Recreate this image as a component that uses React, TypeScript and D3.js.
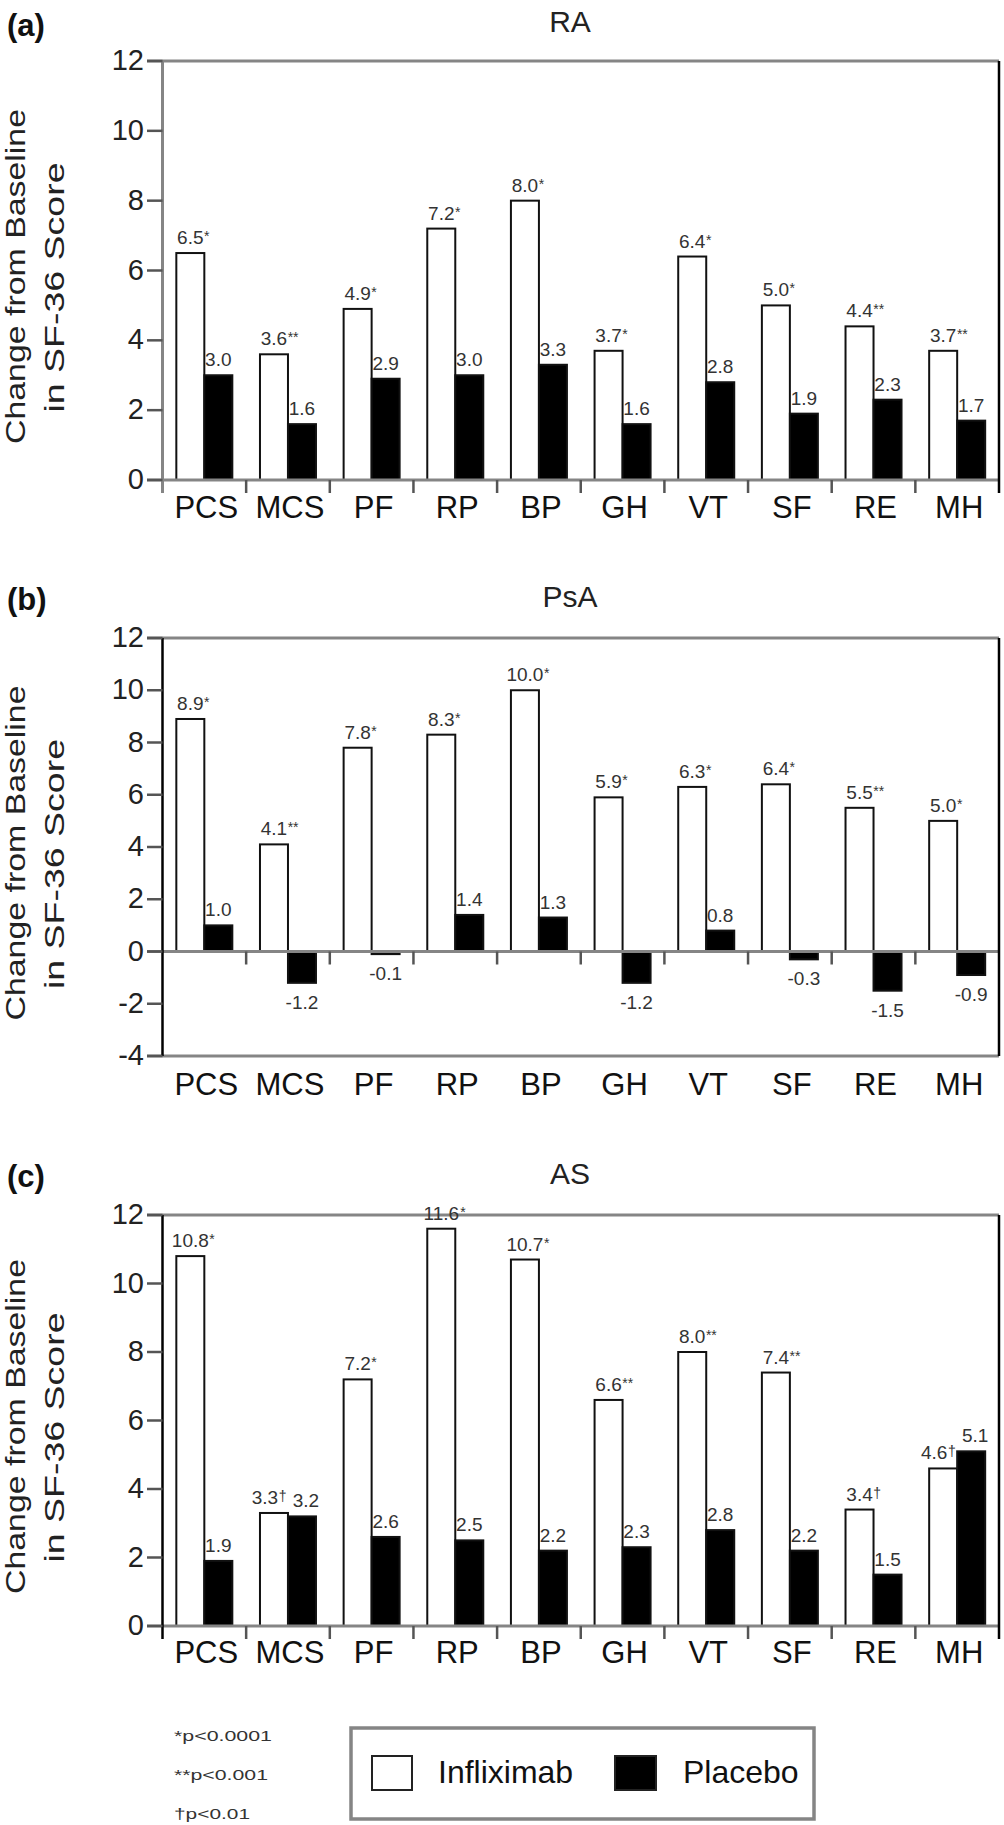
import React from "react";
import * as d3 from "d3";

const categories = ["PCS", "MCS", "PF", "RP", "BP", "GH", "VT", "SF", "RE", "MH"];
const seriesNames = ["Infliximab", "Placebo"];

const raInfliximab = [6.5, 3.6, 4.9, 7.2, 8.0, 3.7, 6.4, 5.0, 4.4, 3.7];
const raInfliximabSig = ["*", "**", "*", "*", "*", "*", "*", "*", "**", "**"];
const raPlacebo = [3.0, 1.6, 2.9, 3.0, 3.3, 1.6, 2.8, 1.9, 2.3, 1.7];

const psaInfliximab = [8.9, 4.1, 7.8, 8.3, 10.0, 5.9, 6.3, 6.4, 5.5, 5.0];
const psaInfliximabSig = ["*", "**", "*", "*", "*", "*", "*", "*", "**", "*"];
const psaPlacebo = [1.0, -1.2, -0.1, 1.4, 1.3, -1.2, 0.8, -0.3, -1.5, -0.9];

const asInfliximab = [10.8, 3.3, 7.2, 11.6, 10.7, 6.6, 8.0, 7.4, 3.4, 4.6];
const asInfliximabSig = ["*", "†", "*", "*", "*", "**", "**", "**", "†", "†"];
const asPlacebo = [1.9, 3.2, 2.6, 2.5, 2.2, 2.3, 2.8, 2.2, 1.5, 5.1];

const footnotes = ["*p<0.0001", "**p<0.001", "†p<0.01"];

const FONT = "'Liberation Sans', Arial, Helvetica, sans-serif";
const GRAY = "#858585";
const X0 = 162.5;
const X1 = 999;
const TICK_LEFT = 147;

type PanelCfg = {
  letter: string;
  title: string;
  inf: number[];
  sig: string[];
  pla: number[];
  domain: [number, number];
  yTop: number;
  yBottom: number;
  letterBaseline: number;
  titleBaseline: number;
  catBaseline: number;
  boxed: boolean;
  grayAxis: boolean;
};

const panels: PanelCfg[] = [
  { letter: "(a)", title: "RA", inf: raInfliximab, sig: raInfliximabSig, pla: raPlacebo, domain: [0, 12], yTop: 61, yBottom: 480, letterBaseline: 36, titleBaseline: 32, catBaseline: 518, boxed: false, grayAxis: true },
  { letter: "(b)", title: "PsA", inf: psaInfliximab, sig: psaInfliximabSig, pla: psaPlacebo, domain: [-4, 12], yTop: 638, yBottom: 1056, letterBaseline: 610, titleBaseline: 607, catBaseline: 1095, boxed: true, grayAxis: false },
  { letter: "(c)", title: "AS", inf: asInfliximab, sig: asInfliximabSig, pla: asPlacebo, domain: [0, 12], yTop: 1215, yBottom: 1626, letterBaseline: 1187, titleBaseline: 1184, catBaseline: 1663, boxed: false, grayAxis: false },
];

function numWidth(s: string, fs: number) {
  let w = 0;
  for (const ch of s) w += ch === "." ? 0.278 : ch === "-" ? 0.333 : 0.556;
  return w * fs;
}

const VFS = 19;

function Panel({ p }: { p: PanelCfg }) {
  const x = d3.scaleBand<string>().domain(categories).range([X0, X1]);
  const bw = x.bandwidth();
  const groupW = 56;
  const xs = d3.scaleBand<string>().domain(seriesNames).range([(bw - groupW) / 2, (bw + groupW) / 2]);
  const y = d3.scaleLinear().domain(p.domain).range([p.yBottom, p.yTop]);
  const ticks = y.ticks(8);
  const y0 = y(0);
  const axisEnd = p.boxed ? p.yBottom : y0 + 13;
  const midY = (p.yTop + (p.boxed ? p.yBottom : y0)) / 2;

  const bars: React.ReactNode[] = [];
  const labels: React.ReactNode[] = [];
  categories.forEach((c, i) => {
    const vals = [p.inf[i], p.pla[i]];
    // when both label heights are close, spread the two labels apart
    const crowded = Math.abs(vals[0] - vals[1]) < 0.8;
    seriesNames.forEach((s, j) => {
      const v = vals[j];
      const bx = (x(c) as number) + (xs(s) as number);
      const w = xs.bandwidth();
      const top = Math.min(y(v), y0);
      const h = Math.abs(y(v) - y0);
      bars.push(
        <rect key={`b${i}${j}`} x={bx} y={top} width={w} height={h}
          fill={j === 0 ? "#fff" : "#000"} stroke="#111" strokeWidth={2} />
      );
      const txt = v.toFixed(1);
      const cx = bx + w / 2 + (crowded ? (j === 0 ? -9 : 4) : 0);
      const ly = v >= 0 ? y(v) - 9 : y(v) + 26;
      labels.push(
        <text key={`l${i}${j}`} x={cx} y={ly} textAnchor="middle" fontSize={VFS} fill="#333" fontFamily={FONT}>{txt}</text>
      );
      if (j === 0) {
        labels.push(
          <text key={`s${i}`} x={cx + numWidth(txt, VFS) / 2 + 0.5} y={ly - 3} fontSize={14} fill="#333" fontFamily={FONT}>{p.sig[i]}</text>
        );
      }
    });
  });

  return (
    <g>
      <text x={7} y={p.letterBaseline} fontSize={31} fontWeight="bold" fontFamily={FONT} fill="#111">{p.letter}</text>
      <text x={570} y={p.titleBaseline} fontSize={30} textAnchor="middle" fontFamily={FONT} fill="#222">{p.title}</text>
      <text transform={`translate(25,${midY + 6}) rotate(-90)`} textAnchor="middle" fontSize={28} fontFamily={FONT} fill="#222" textLength={335} lengthAdjust="spacingAndGlyphs">Change from Baseline</text>
      <text transform={`translate(64,${midY + 17}) rotate(-90)`} textAnchor="middle" fontSize={28} fontFamily={FONT} fill="#222" textLength={250} lengthAdjust="spacingAndGlyphs">in SF-36 Score</text>
      {bars}
      <line x1={TICK_LEFT} x2={X1} y1={p.yTop} y2={p.yTop} stroke={GRAY} strokeWidth={3} />
      <line x1={TICK_LEFT} x2={X1} y1={y0} y2={y0} stroke={GRAY} strokeWidth={3} />
      {p.boxed && <line x1={TICK_LEFT} x2={X1} y1={p.yBottom} y2={p.yBottom} stroke={GRAY} strokeWidth={3} />}
      <line x1={X0} x2={X0} y1={p.yTop} y2={axisEnd} stroke={p.grayAxis ? GRAY : "#000"} strokeWidth={p.grayAxis ? 3 : 2.5} />
      <line x1={X1} x2={X1} y1={p.yTop} y2={axisEnd} stroke="#000" strokeWidth={2.5} />
      {ticks.map((t) => (
        <g key={`t${t}`}>
          <line x1={TICK_LEFT} x2={X0} y1={y(t)} y2={y(t)} stroke="#555" strokeWidth={2.5} />
          <text x={144} y={y(t) + 9} textAnchor="end" fontSize={29} fontFamily={FONT} fill="#222">{String(t)}</text>
        </g>
      ))}
      {d3.range(1, categories.length).map((k) => (
        <line key={`c${k}`} x1={X0 + k * bw} x2={X0 + k * bw} y1={y0} y2={y0 + 13} stroke="#555" strokeWidth={2.5} />
      ))}
      {categories.map((c) => (
        <text key={`n${c}`} x={(x(c) as number) + bw / 2 + 2} y={p.catBaseline} textAnchor="middle" fontSize={31} fontFamily={FONT} fill="#111">{c}</text>
      ))}
      {labels}
    </g>
  );
}

export default function App() {
  const legendY = 1728;
  return (
    <svg width={1004} height={1825} style={{ position: "absolute", left: 0, top: 0, background: "#fff" }}>
      <rect x={0} y={0} width={1004} height={1825} fill="#fff" />
      {panels.map((p) => <Panel key={p.letter} p={p} />)}
      {footnotes.map((f, i) => (
        <text key={f} x={174} y={1741 + i * 39} fontSize={15} fontFamily={FONT} fill="#333" textLength={[98, 94, 76][i]} lengthAdjust="spacingAndGlyphs">{f}</text>
      ))}
      <rect x={351} y={legendY} width={463} height={91} fill="#fff" stroke={GRAY} strokeWidth={3.5} />
      <rect x={372} y={1756} width={40} height={34} fill="#fff" stroke="#222" strokeWidth={2} />
      <text x={438} y={1783} fontSize={32} fontFamily={FONT} fill="#111">{seriesNames[0]}</text>
      <rect x={615} y={1756} width={41} height={34} fill="#000" stroke="#222" strokeWidth={2} />
      <text x={683} y={1783} fontSize={32} fontFamily={FONT} fill="#111">{seriesNames[1]}</text>
    </svg>
  );
}
